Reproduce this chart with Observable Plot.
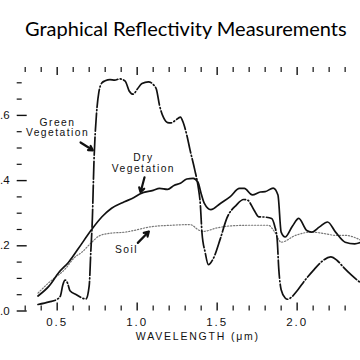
<!DOCTYPE html>
<html>
<head>
<meta charset="utf-8">
<script src="https://cdn.jsdelivr.net/npm/d3@7"></script>
<script src="https://cdn.jsdelivr.net/npm/@observablehq/plot@0.6"></script>
<style>
  html, body { margin: 0; padding: 0; background: #fff; }
</style>
</head>
<body>
<div id="chart"></div>
<script>
// ---- data ----
const greenWl = [0.38,0.45,0.50,0.52,0.535,0.55,0.565,0.58,0.62,0.665,0.68,0.70,0.71,0.72,0.73,0.745,0.76,0.78,0.80,0.83,0.86,0.89,0.925,0.95,0.975,1.00,1.03,1.07,1.10,1.12,1.14,1.165,1.19,1.21,1.24,1.27,1.29,1.31,1.33,1.36,1.38,1.395,1.405,1.425,1.445,1.475,1.52,1.56,1.62,1.665,1.69,1.73,1.76,1.80,1.84,1.86,1.875,1.885,1.90,1.925,1.94,1.97,2.00,2.05,2.10,2.15,2.21,2.25,2.29,2.34,2.40];
const greenR  = [0.020,0.028,0.036,0.046,0.080,0.095,0.085,0.062,0.050,0.038,0.037,0.077,0.180,0.285,0.460,0.600,0.670,0.700,0.706,0.710,0.708,0.712,0.705,0.675,0.665,0.680,0.698,0.703,0.695,0.680,0.630,0.593,0.578,0.577,0.585,0.595,0.575,0.540,0.495,0.433,0.385,0.325,0.240,0.180,0.142,0.160,0.222,0.284,0.325,0.342,0.340,0.310,0.289,0.288,0.284,0.260,0.220,0.130,0.065,0.040,0.036,0.045,0.062,0.095,0.124,0.150,0.166,0.155,0.134,0.110,0.085];

const dryWl = [0.38,0.45,0.51,0.57,0.63,0.72,0.78,0.84,0.92,0.98,1.02,1.10,1.14,1.19,1.23,1.27,1.31,1.35,1.38,1.40,1.42,1.46,1.52,1.58,1.64,1.67,1.72,1.77,1.80,1.85,1.88,1.90,1.925,1.97,2.01,2.06,2.09,2.14,2.19,2.24,2.30,2.36,2.40];
const dryR  = [0.046,0.077,0.118,0.149,0.190,0.253,0.289,0.315,0.335,0.348,0.360,0.370,0.376,0.373,0.385,0.392,0.405,0.407,0.395,0.360,0.330,0.311,0.330,0.350,0.376,0.376,0.356,0.365,0.366,0.377,0.356,0.242,0.227,0.260,0.284,0.247,0.242,0.258,0.273,0.242,0.211,0.206,0.211];

const soilWl = [0.38,0.45,0.55,0.61,0.654,0.706,0.77,0.84,0.925,0.98,1.08,1.21,1.33,1.39,1.41,1.50,1.58,1.70,1.82,1.86,1.90,1.99,2.09,2.175,2.24,2.30,2.40];
const soilR  = [0.055,0.088,0.129,0.165,0.180,0.206,0.232,0.239,0.242,0.247,0.258,0.263,0.265,0.247,0.244,0.255,0.261,0.263,0.263,0.242,0.211,0.232,0.242,0.237,0.232,0.232,0.217];

const xMajor = [0.5, 1.0, 1.5, 2.0];
const xMajorLabels = ["0.5", "1.0", "1.5", "2.0"];
const xMinor = [0.3,0.4,0.6,0.7,0.8,0.9,1.1,1.2,1.3,1.4,1.6,1.7,1.8,1.9,2.1,2.2,2.3];
const yMajor = [0, 0.2, 0.4, 0.6];
const yMajorLabels = [".0", ".2", ".4", ".6"];
const yMinor = [0.05,0.1,0.15,0.25,0.3,0.35,0.45,0.5,0.55,0.65,0.7];

const titleText = "Graphical Reflectivity Measurements";
const xTitle = "WAVELENGTH (\u03bcm)";

const annotText = ["Green\nVegetation", "Dry\nVegetation", "Soil"];
const annotX = [0.502, 1.039, 0.933];
const annotY = [0.562, 0.4545, 0.188];
const arrowX1 = [0.646, 1.046, 1.004];
const arrowY1 = [0.517, 0.410, 0.209];
const arrowX2 = [0.723, 1.021, 1.073];
const arrowY2 = [0.493, 0.364, 0.244];

// ---- tables built from arrays ----
const green = greenWl.map((w, i) => ({w, r: greenR[i]}));
const dry = dryWl.map((w, i) => ({w, r: dryR[i]}));
const soil = soilWl.map((w, i) => ({w, r: soilR[i]}));
const annots = annotText.map((t, i) => ({t, x: annotX[i], y: annotY[i]}));
const arrows = arrowX1.map((_, i) => ({x1: arrowX1[i], y1: arrowY1[i], x2: arrowX2[i], y2: arrowY2[i]}));
const xLabelMap = new Map(xMajor.map((v, i) => [v, xMajorLabels[i]]));
const yLabelMap = new Map(yMajor.map((v, i) => [v, yMajorLabels[i]]));

const ink = "#111";
const labelFont = "'Liberation Sans', Arial, sans-serif";

const chart = Plot.plot({
  width: 360,
  height: 360,
  marginLeft: 16.7,
  marginRight: 0,
  marginTop: 66,
  marginBottom: 49.5,
  style: {background: "#fff", color: ink, fontFamily: labelFont},
  x: {domain: [0.25, 2.396]},
  y: {domain: [0, 0.75]},
  marks: [
    // frame lines
    Plot.axisX([], {anchor: "bottom", line: true, tickSize: 0, label: null, strokeWidth: 1.5}),
    Plot.axisX([], {anchor: "top", line: true, tickSize: 0, label: null, strokeWidth: 1.5}),
    Plot.axisY([], {anchor: "left", line: true, tickSize: 0, label: null, strokeWidth: 1.5}),
    // inward ticks
    Plot.axisX(xMajor, {anchor: "bottom", tickSize: -8, tickFormat: () => "", label: null, strokeWidth: 1.4}),
    Plot.axisX(xMinor, {anchor: "bottom", tickSize: -5, tickFormat: () => "", label: null, strokeWidth: 1.2}),
    Plot.axisX(xMajor, {anchor: "top", tickSize: -8, tickFormat: () => "", label: null, strokeWidth: 1.4}),
    Plot.axisX(xMinor, {anchor: "top", tickSize: -5, tickFormat: () => "", label: null, strokeWidth: 1.2}),
    Plot.axisY(yMajor, {anchor: "left", tickSize: -10, tickFormat: () => "", label: null, strokeWidth: 1.4}),
    Plot.axisY(yMinor, {anchor: "left", tickSize: -5, tickFormat: () => "", label: null, strokeWidth: 1.2}),
    // tick labels
    Plot.axisX(xMajor, {anchor: "bottom", tickSize: 0, tickPadding: 7, tickFormat: d => xLabelMap.get(d), label: null, fontSize: 11.5}),
    Plot.axisY(yMajor, {anchor: "left", tickSize: 0, tickPadding: 7.5, tickFormat: d => yLabelMap.get(d), label: null, fontSize: 11.5}),
    // curves
    Plot.line(soil, {x: "w", y: "r", stroke: "#777", strokeWidth: 1.2, strokeDasharray: "1.2,1.8", curve: "monotone-x"}),
    Plot.line(dry, {x: "w", y: "r", stroke: ink, strokeWidth: 1.7, curve: "monotone-x"}),
    Plot.line(green, {x: "w", y: "r", stroke: ink, strokeWidth: 1.7, strokeDasharray: "18,2.5,1,2.5", curve: "monotone-x"}),
    // annotations
    Plot.arrow(arrows, {x1: "x1", y1: "y1", x2: "x2", y2: "y2", stroke: ink, strokeWidth: 2.2, headLength: 6}),
    Plot.text(annots, {x: "x", y: "y", text: "t", fontSize: 10.3, lineHeight: 1.03, fill: ink, fontFamily: labelFont}),
    // titles
    Plot.text([titleText], {frameAnchor: "top", dx: -3, dy: -37, fontSize: 20, fill: "#000", fontFamily: "'Comic Sans MS', Lato, sans-serif", lineAnchor: "middle"}),
    Plot.text([xTitle], {frameAnchor: "bottom", dx: 9, dy: 29, fontSize: 10.5, fill: ink, fontFamily: labelFont})
  ]
});
document.getElementById("chart").appendChild(chart);

// letter spacing to mimic the spaced lettering of the original
d3.select(chart).selectAll("text").each(function () {
  const t = this.textContent;
  let ls = null;
  if (t === xTitle) ls = "1.8px";
  else if (xMajorLabels.includes(t)) ls = "2px";
  else if (annotText.some(a => a.replace("\n", "") === t)) ls = "1.45px";
  if (ls) {
    this.setAttribute("letter-spacing", ls);
    this.style.letterSpacing = ls;
    this.querySelectorAll("tspan").forEach(s => { s.setAttribute("letter-spacing", ls); s.style.letterSpacing = ls; });
  }
});
</script>
</body>
</html>
